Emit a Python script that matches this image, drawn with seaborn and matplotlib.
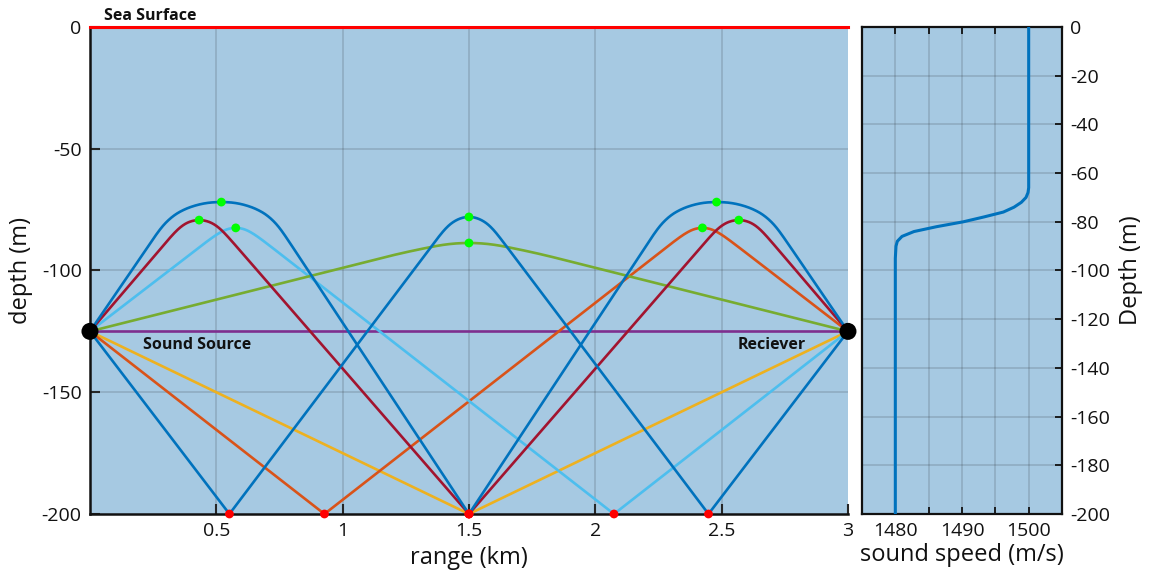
import numpy as np
import pandas as pd
import matplotlib
matplotlib.use("Agg")
import matplotlib.pyplot as plt
import seaborn as sns

# ---------------------------------------------------------------- data
# sound-speed profile (depth in m, speed in m/s)
profile_depth = [0, -66, -68, -70, -72, -74, -76, -78, -80, -82, -84, -86, -88, -90, -95, -200]
profile_speed = [1500.0, 1500.0, 1499.9, 1499.6, 1498.9, 1497.8, 1496.2, 1493.3,
                 1490.2, 1486.2, 1482.8, 1481.0, 1480.3, 1480.1, 1480.0, 1480.0]

source_range, receiver_range = 0.0, 3.0
source_depth = -125.0
bottom_depth = -200.0

# eigenray waypoints: source, turning points / bottom bounces, receiver
ray_direct_x = [0.0, 3.0]
ray_direct_z = [-125.0, -125.0]
ray_green_x = [0.0, 1.5, 3.0]
ray_green_z = [-125.0, -88.7, -125.0]
ray_blue_upper_x = [0.0, 0.52, 1.5, 2.48, 3.0]
ray_blue_upper_z = [-125.0, -71.9, -200.0, -71.9, -125.0]
ray_blue_lower_x = [0.0, 0.552, 1.5, 2.448, 3.0]
ray_blue_lower_z = [-125.0, -200.0, -78.0, -200.0, -125.0]
ray_darkred_x = [0.0, 0.432, 1.5, 2.568, 3.0]
ray_darkred_z = [-125.0, -79.3, -200.0, -79.3, -125.0]
ray_lightblue_x = [0.0, 0.577, 2.074, 3.0]
ray_lightblue_z = [-125.0, -82.5, -200.0, -125.0]
ray_orange_x = [0.0, 0.928, 2.424, 3.0]
ray_orange_z = [-125.0, -200.0, -82.5, -125.0]
ray_yellow_x = [0.0, 1.5, 3.0]
ray_yellow_z = [-125.0, -200.0, -125.0]

rays = [
    (ray_direct_x, ray_direct_z, "#7E2F8E"),
    (ray_yellow_x, ray_yellow_z, "#EDB120"),
    (ray_orange_x, ray_orange_z, "#D95319"),
    (ray_lightblue_x, ray_lightblue_z, "#4DBEEE"),
    (ray_green_x, ray_green_z, "#77AC30"),
    (ray_darkred_x, ray_darkred_z, "#A2142F"),
    (ray_blue_lower_x, ray_blue_lower_z, "#0072BD"),
    (ray_blue_upper_x, ray_blue_upper_z, "#0072BD"),
]

range_ticks = [0.5, 1, 1.5, 2, 2.5, 3]
range_labels = ["0.5", "1", "1.5", "2", "2.5", "3"]
depth_ticks = [0, -50, -100, -150, -200]
speed_ticks = [1480, 1485, 1490, 1495, 1500]
speed_labels = ["1480", "", "1490", "", "1500"]
profile_depth_ticks = list(range(0, -201, -20))

# ---------------------------------------------------------------- ray geometry
z_asc = np.array(profile_depth[::-1], dtype=float)
c_asc = np.array(profile_speed[::-1], dtype=float)


def sound_speed(z):
    return np.interp(z, z_asc, c_asc)


def refracted_arc(x_turn, z_turn, x_end, z_end, n=500):
    """Path from a turning point down to (x_end, z_end) following Snell's law."""
    u = np.linspace(0.0, np.sqrt(z_turn - z_end), n)
    z = z_turn - u ** 2
    c_t = sound_speed(z_turn)
    c = sound_speed(z)
    gap = np.sqrt(np.clip(c_t ** 2 - c ** 2, 1e-12, None))
    f = 2.0 * u * c / gap
    f[0] = f[1]
    dist = np.concatenate([[0.0], np.cumsum(0.5 * (f[1:] + f[:-1]) * np.diff(u))])
    x = x_turn + (x_end - x_turn) * dist / dist[-1]
    return x, z


def ray_path(xs, zs):
    px, pz = [xs[0]], [zs[0]]
    for i in range(len(xs) - 1):
        x0, z0, x1, z1 = xs[i], zs[i], xs[i + 1], zs[i + 1]
        if z1 > source_depth:          # rising towards a turning point
            ax_, az_ = refracted_arc(x1, z1, x0, z0)
            px.extend(ax_[::-1][1:]); pz.extend(az_[::-1][1:])
        elif z0 > source_depth:        # leaving a turning point
            ax_, az_ = refracted_arc(x0, z0, x1, z1)
            px.extend(ax_[1:]); pz.extend(az_[1:])
        else:
            px.append(x1); pz.append(z1)
    return np.array(px), np.array(pz)


# ---------------------------------------------------------------- styling
sns.set_theme(style="ticks")
plt.rcParams["font.family"] = ["Open Sans", "DejaVu Sans"]
plt.rcParams["axes.unicode_minus"] = False

water = "#a6c9e2"
ink = "#262626"

fig = plt.figure(figsize=(11.49, 5.77), dpi=100)
ax = fig.add_axes([0.0783, 0.1092, 0.6597, 0.8440])
ax2 = fig.add_axes([0.7502, 0.1092, 0.1741, 0.8440])

# ---------------------------------------------------------------- ray diagram
ax.set_facecolor(water)
for xs, zs, col in rays:
    px, pz = ray_path(xs, zs)
    sns.lineplot(x=px, y=pz, sort=False, estimator=None, color=col, lw=1.9, ax=ax, zorder=3)

turn_x = [x for xs, zs, _ in rays for x, z in zip(xs, zs) if z > source_depth]
turn_z = [z for xs, zs, _ in rays for x, z in zip(xs, zs) if z > source_depth]
bounce_x = [x for xs, zs, _ in rays for x, z in zip(xs, zs) if z == bottom_depth]
bounce_z = [z for xs, zs, _ in rays for x, z in zip(xs, zs) if z == bottom_depth]

sns.scatterplot(x=turn_x, y=turn_z, color="#00ff00", s=40, edgecolor="none",
                ax=ax, zorder=5)
sns.scatterplot(x=bounce_x, y=bounce_z, color="#ff0000", s=40, edgecolor="none",
                ax=ax, zorder=5)
sns.scatterplot(x=[source_range, receiver_range], y=[source_depth, source_depth],
                color="black", s=150, edgecolor="none", ax=ax, zorder=6)
for coll in ax.collections:
    coll.set_clip_on(False)

ax.set_xlim(0, 3)
ax.set_ylim(-200, 0)
ax.set_xticks(range_ticks)
ax.set_xticklabels(range_labels)
ax.set_yticks(depth_ticks)
ax.grid(True, color=ink, alpha=0.18, lw=1.2)
ax.set_axisbelow(True)
for tick, v in zip(ax.xaxis.get_major_ticks(), range_ticks):
    if v == 3:
        tick.gridline.set_visible(False)
for tick, v in zip(ax.yaxis.get_major_ticks(), depth_ticks):
    if v in (0, -200):
        tick.gridline.set_visible(False)

ax.tick_params(direction="in", length=7, width=1.5, colors=ink, labelsize=14,
               labelcolor="#111111", pad=6)
ax.spines["right"].set_visible(False)
ax.spines["top"].set_color("#ff0000")
ax.spines["top"].set_linewidth(2.2)
for s in ("left", "bottom"):
    ax.spines[s].set_color("#111111")
    ax.spines[s].set_linewidth(1.8)
ax.spines["top"].set_zorder(7)

ax.set_xlabel("range (km)", fontsize=17, color="#111111", labelpad=4)
ax.set_ylabel("depth (m)", fontsize=17, color="#111111", labelpad=6)

label_kw = dict(fontsize=11.5, fontweight="bold", color="#111111")
ax.text(0.055, 1.2, "Sea Surface", ha="left", va="bottom", clip_on=False, **label_kw)
ax.text(0.21, -127.5, "Sound Source", ha="left", va="top", **label_kw)
ax.text(2.565, -127.5, "Reciever", ha="left", va="top", **label_kw)

# ---------------------------------------------------------------- sound-speed profile
ax2.set_facecolor(water)
prof = pd.DataFrame({"speed": profile_speed, "depth": profile_depth})
sns.lineplot(data=prof, x="speed", y="depth", sort=False, estimator=None,
             color="#0072BD", lw=2.2, ax=ax2, zorder=3)
ax2.set_xlim(1475, 1505)
ax2.set_ylim(-200, 0)
ax2.set_xticks(speed_ticks)
ax2.set_xticklabels(speed_labels)
ax2.set_yticks(profile_depth_ticks)
ax2.yaxis.tick_right()
ax2.yaxis.set_label_position("right")
ax2.grid(True, color=ink, alpha=0.18, lw=1.2)
ax2.set_axisbelow(True)
ax2.tick_params(direction="in", length=5, width=1.3, colors="#111111", labelsize=14,
                labelcolor="#111111", top=True, bottom=True, pad=6)
for s in ax2.spines.values():
    s.set_color("#111111")
    s.set_linewidth(1.6)
ax2.set_xlabel("sound speed (m/s)", fontsize=17, color="#111111", labelpad=2)
ax2.set_ylabel("Depth (m)", fontsize=17, color="#111111", labelpad=6)

fig.savefig("out.png", dpi=100, facecolor="white")
